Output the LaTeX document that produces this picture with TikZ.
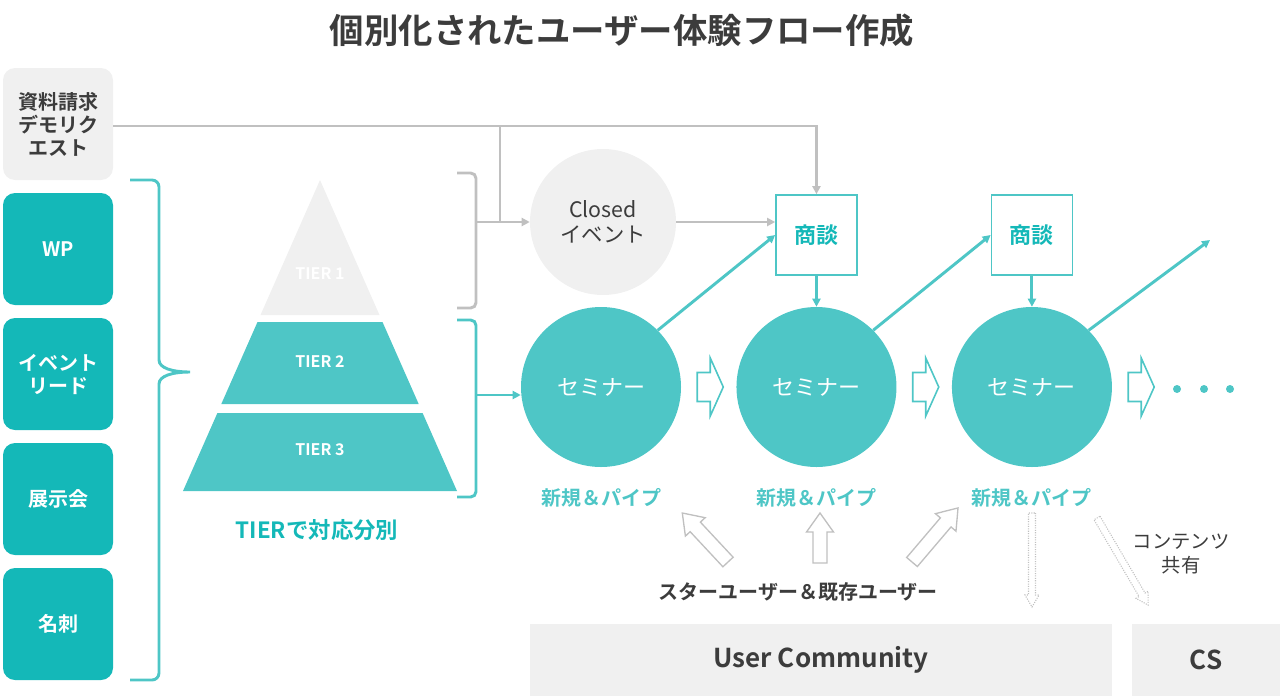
\documentclass[tikz,border=0pt]{standalone}
\usepackage{fontspec}
\setmainfont{Noto Sans CJK JP}[BoldFont={Noto Sans CJK JP Bold}]
\usetikzlibrary{arrows.meta,positioning,calc}

\definecolor{tealdark}{RGB}{20,184,184}
\definecolor{teallight}{RGB}{78,198,198}
\definecolor{paleGray}{RGB}{240,240,240}
\definecolor{lineGray}{RGB}{192,192,192}
\definecolor{textDark}{RGB}{60,60,60}

% hollow block arrow: [style] {tail} {angle} {length} {shaft half} {head half} {head length}
\newcommand{\hollowarrow}[7][]{%
  \draw[#1,shift={#2},rotate=#3] (0,-#5) -- ({#4-#7},-#5) -- ({#4-#7},-#6) -- (#4,0)
    -- ({#4-#7},#6) -- ({#4-#7},#5) -- (0,#5) -- cycle;}

\tikzset{
  leadbox/.style={rectangle, rounded corners=9pt, fill=tealdark, text=white,
    minimum width=82.5pt, minimum height=84pt, align=center,
    font=\bfseries\fontsize{15}{17.25}\selectfont},
  seminar/.style={circle, fill=teallight, minimum size=120pt, text=white,
    font=\fontsize{16.5}{20}\selectfont},
  dealbox/.style={rectangle, draw=teallight, line width=1.2pt, fill=white,
    minimum width=60.75pt, minimum height=60pt, text=tealdark,
    font=\bfseries\fontsize{16.5}{20}\selectfont},
  pipelabel/.style={text=teallight, font=\bfseries\fontsize{15}{18}\selectfont},
  tier/.style={text=white, font=\bfseries\fontsize{12}{14}\selectfont},
  bar/.style={rectangle, fill=paleGray, minimum height=54pt, text=textDark,
    font=\bfseries\fontsize{19.5}{23}\selectfont},
  grayline/.style={draw=lineGray, line width=2.2pt},
  tealline/.style={draw=teallight, line width=2.2pt},
  tip/.style={-{Triangle[length=6pt,width=6pt]}},
}

\begin{document}
\begin{tikzpicture}[x=0.75pt, y=-0.75pt, on grid]
\useasboundingbox (0,0) rectangle (1280,696);

% title
\node[text=textDark, font=\bfseries\fontsize{25.8}{30}\selectfont] (title) at (622,30)
  {個別化されたユーザー体験フロー作成};

% lead sources
\node[leadbox, fill=paleGray, text=textDark] (req) at (58,124) {資料請求\\デモリク\\エスト};
\node[leadbox, below=93.75pt of req] (wp) {WP};
\node[leadbox, below=93.75pt of wp] (ev) {イベント\\リード};
\node[leadbox, below=93.75pt of ev] (expo) {展示会};
\node[leadbox, below=93.75pt of expo] (card) {名刺};

% brace
\draw[teallight, line width=2.2pt] (130,180) -- (152,180) to[out=0,in=90] (159,187)
  -- (159,360) .. controls (159,368) and (172,372) .. (190,372)
  .. controls (172,372) and (159,376) .. (159,384)
  -- (159,673) to[out=-90,in=0] (152,680) -- (130,680);

% pyramid
\fill[paleGray] (320,180) -- (379.5,315) -- (260.5,315) -- cycle;
\fill[teallight] (257.5,322) -- (382.5,322) -- (418.7,404) -- (221.3,404) -- cycle;
\fill[teallight] (217.4,413) -- (422.6,413) -- (457,491) -- (183,491) -- cycle;
\node[tier] (t1) at (320,274) {TIER 1};
\node[tier] (t2) at (320,362) {TIER 2};
\node[tier] (t3) at (320,450) {TIER 3};
\node[text=tealdark, font=\bfseries\fontsize{16.8}{20}\selectfont] (tiertext) at (317,530)
  {TIERで対応分別};

% brackets
\draw[grayline, rounded corners=4pt] (457,173) -| (476,308) -- (457,308);
\coordinate (gmid) at (476,222);
\draw[tealline, rounded corners=4pt] (457,320) -| (476,497) -- (457,497);
\coordinate (tmid) at (476,395);

% seminars and deals
\node[circle, fill=paleGray, minimum size=109.5pt, align=center, text=textDark,
  font=\fontsize{16}{19}\selectfont] (closed) at (603,222) {Closed\\イベント};
\node[seminar] (sem1) at (601,387) {セミナー};
\node[seminar, right=161.6pt of sem1] (sem2) {セミナー};
\node[seminar, right=161.6pt of sem2] (sem3) {セミナー};
\node[dealbox, above=114pt of sem2] (sd1) {商談};
\node[dealbox, above=114pt of sem3] (sd2) {商談};
\node[pipelabel, below=83.25pt of sem1] (pipe1) {新規＆パイプ};
\node[pipelabel, below=83.25pt of sem2] (pipe2) {新規＆パイプ};
\node[pipelabel, below=83.25pt of sem3] (pipe3) {新規＆パイプ};
\coordinate (split) at (500,126);
\coordinate (onward) at (1210,240);

% gray connectors
\draw[grayline, tip] (req.east |- split) -| (sd1.north);
\draw[grayline] (split) -- (split |- gmid);
\draw[grayline, tip] (gmid) -- (closed.west);
\draw[grayline, tip] (closed.east) -- (closed.east -| sd1.west);

% teal connectors
\draw[tealline, tip] (tmid) -- (tmid -| sem1.west);
\draw[tealline, tip] (sem1.45) -- (sd1.west);
\draw[tealline, tip] (sem2.45) -- (sd2.west);
\draw[tealline, tip] (sem3.45) -- (onward);
\draw[tealline, tip] (sd1.south) -- (sem2.north);
\draw[tealline, tip] (sd2.south) -- (sem3.north);

% hollow arrows
\hollowarrow[draw=teallight, line width=1.2pt]{($(sem1.east)+(16,0)$)}{0}{26}{14.5}{29}{13}
\hollowarrow[draw=teallight, line width=1.2pt]{($(sem2.east)+(16,0)$)}{0}{26}{14.5}{29}{13}
\hollowarrow[draw=teallight, line width=1.2pt]{($(sem3.east)+(16,0)$)}{0}{26}{14.5}{29}{13}
\foreach \x in {1177,1204,1230} \fill[teallight] (\x,389) circle (3pt);

\hollowarrow[draw=lineGray, line width=1pt]{(728,562)}{133}{67}{7}{13.5}{19}
\hollowarrow[draw=lineGray, line width=1pt]{(820,563)}{90}{50}{7}{13.5}{19}
\hollowarrow[draw=lineGray, line width=1pt]{(912,562)}{49.6}{71}{7}{13.5}{19}
\hollowarrow[draw=lineGray, line width=0.8pt, densely dotted]{(1032,513)}{-90}{94}{3.5}{7}{12}
\hollowarrow[draw=lineGray, line width=0.8pt, densely dotted]{(1097,518)}{-59.6}{101}{3.5}{7}{12}

\node[text=textDark, font=\bfseries\fontsize{15}{18}\selectfont] (users) at (798,592)
  {スターユーザー＆既存ユーザー};
\node[text=textDark, align=center, font=\fontsize{14.5}{18}\selectfont] (share) at (1181,554)
  {コンテンツ\\共有};

% bottom bars
\node[bar, minimum width=436.5pt] (uc) at (821,660) {User Community};
\node[bar, minimum width=111pt] (cs) at (1206,660) {CS};
\end{tikzpicture}
\end{document}
